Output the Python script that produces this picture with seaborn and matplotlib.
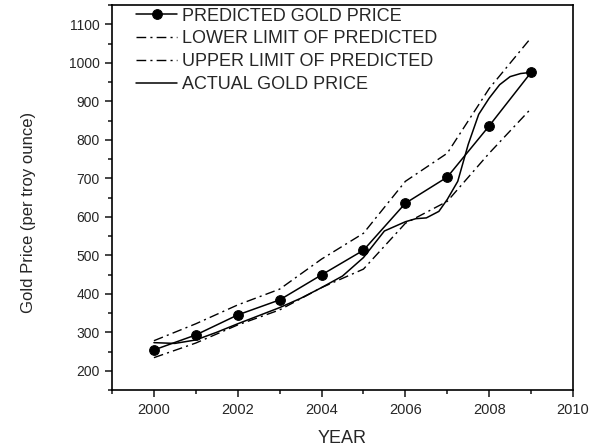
import numpy as np
import pandas as pd
import matplotlib
matplotlib.use("Agg")
import matplotlib.pyplot as plt
from matplotlib.ticker import MultipleLocator
import seaborn as sns

# Values
years = [2000, 2001, 2002, 2003, 2004, 2005, 2006, 2007, 2008, 2009]
predicted = [254, 293, 345, 384, 449, 513, 635, 703, 836, 975]
lower = [234, 272, 319, 358, 416, 464, 583, 640, 765, 881]
upper = [278, 322, 371, 412, 490, 557, 692, 765, 933, 1065]

actual_years = [2000, 2000.5, 2001, 2001.5, 2002, 2002.5, 2003, 2003.5, 2004, 2004.5,
                2005, 2005.5, 2006, 2006.25, 2006.5, 2006.8, 2007, 2007.25, 2007.5,
                2007.75, 2008, 2008.25, 2008.5, 2008.75, 2009]
actual = [273, 271, 280, 300, 322, 343, 364, 388, 416, 446,
          494, 563, 587, 595, 597, 614, 645, 692, 788,
          866, 908, 943, 964, 972, 975]

sns.set_style("ticks")
plt.rcParams["font.family"] = ["Liberation Sans", "DejaVu Sans"]

fig, ax = plt.subplots(figsize=(5.95, 4.46), dpi=100)
fig.subplots_adjust(left=112/595, right=573/595, bottom=1-390/446, top=1-5/446)

pred_df = pd.DataFrame({"year": years, "price": predicted})
low_df = pd.DataFrame({"year": years, "price": lower})
up_df = pd.DataFrame({"year": years, "price": upper})
act_df = pd.DataFrame({"year": actual_years, "price": actual})

dashdot = (0, (7, 3, 1.5, 3))
sns.lineplot(data=pred_df, x="year", y="price", ax=ax, color="black", lw=1.1,
             marker="o", markersize=7, markeredgecolor="black",
             label="PREDICTED GOLD PRICE")
sns.lineplot(data=low_df, x="year", y="price", ax=ax, color="black", lw=1.0,
             linestyle=dashdot, label="LOWER LIMIT OF PREDICTED")
sns.lineplot(data=up_df, x="year", y="price", ax=ax, color="black", lw=1.0,
             linestyle=dashdot, label="UPPER LIMIT OF PREDICTED")
sns.lineplot(data=act_df, x="year", y="price", ax=ax, color="black", lw=1.1,
             sort=False, label="ACTUAL GOLD PRICE")

ax.set_xlim(1999, 2010)
ax.set_ylim(150, 1150)
ax.xaxis.set_major_locator(MultipleLocator(2))
ax.xaxis.set_minor_locator(MultipleLocator(1))
ax.yaxis.set_minor_locator(MultipleLocator(50))
ax.set_yticks(np.arange(200, 1101, 100))
ax.tick_params(which="major", direction="out", length=5, width=1.2)
ax.tick_params(which="minor", direction="out", length=3, width=1.2)
ax.tick_params(axis="x", labelsize=10.5, top=False, pad=4)
ax.tick_params(axis="y", labelsize=10, right=False, pad=4)
for sp in ax.spines.values():
    sp.set_linewidth(1.2)
    sp.set_color("black")

ax.set_xlabel("YEAR", fontsize=13, labelpad=10)
ax.set_ylabel("Gold Price (per troy ounce)", fontsize=12)
ax.yaxis.set_label_coords(-0.165, 0.46)

ax.legend(loc="upper left", frameon=False, fontsize=13,
          handlelength=2.3, handletextpad=0.25, labelspacing=0.32,
          borderaxespad=0.0, bbox_to_anchor=(0.036, 1.012))

fig.savefig("out.png", dpi=100)
